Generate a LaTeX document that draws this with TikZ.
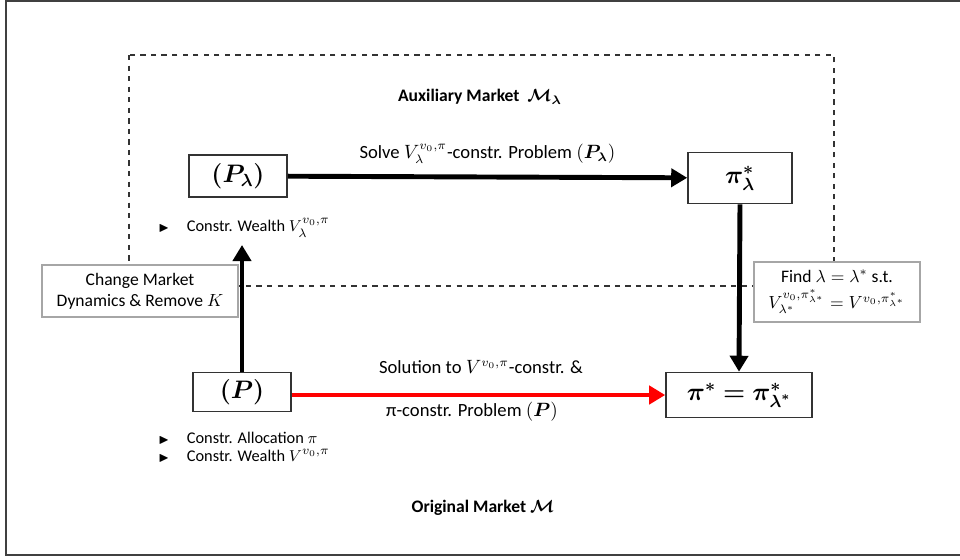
\documentclass[tikz,border=0pt]{standalone}
\usepackage{amsmath,amssymb,bm}
\usepackage{fontspec}
\setmainfont{Carlito}
\usetikzlibrary{arrows.meta}
\tikzset{
  probbox/.style={draw=black!80,line width=0.9pt,minimum width=#1,inner sep=0pt,font=\Large},
  notebox/.style={draw=black!35,fill=white,line width=0.8pt,inner sep=0pt,align=center,font=\normalsize},
  bigarrow/.style={line width=2.8pt,-{Triangle[length=0.32cm,width=0.36cm]}},
  bullet/.style={anchor=west,font=\fontsize{9.3}{11}\selectfont,inner sep=0pt},
  arrowlabel/.style={font=\fontsize{10.6}{12.5}\selectfont},
}
\newcommand{\tri}{{\scriptsize$\blacktriangleright$}\hspace{10pt}}
\begin{document}
\begin{tikzpicture}[x=0.02cm,y=-0.02cm]
  \useasboundingbox (0,0) rectangle (960,559);
  % outer frame
  \draw[black!75,line width=1.2pt] (965,1) -- (6,1) -- (6,555) -- (965,555);
  % auxiliary market region
  \draw[black!80,dashed,line width=0.6pt] (129,55) rectangle (834,286);
  \node[font=\bfseries] (aux) at (480,97) {Auxiliary Market \ $\bm{\mathcal{M}_\lambda}$};
  \node[font=\bfseries] (orig) at (483,508) {Original Market $\bm{\mathcal{M}}$};
  % problems
  \node[probbox=1.96cm,minimum height=0.84cm] (Pl) at (238,176) {$\bm{(P_\lambda)}$};
  \node[probbox=2.08cm,minimum height=1.02cm] (pil) at (740,178) {$\bm{\pi^*_\lambda}$};
  \node[probbox=1.96cm,minimum height=0.78cm] (P) at (242,392) {$\bm{(P)}$};
  \node[probbox=2.92cm,minimum height=0.90cm] (pis) at (739,395) {$\bm{\pi^* = \pi^*_{\lambda^*}}$};
  % side notes
  \node[notebox,minimum width=3.92cm,minimum height=1.04cm] (change) at (140,291)
    {Change Market\\ Dynamics \& Remove $K$};
  \node[notebox,minimum width=3.32cm,minimum height=1.2cm] (find) at (837,292)
    {Find $\lambda = \lambda^*$ s.t.\\[3pt] $V_{\lambda^*}^{v_0,\pi^*_{\lambda^*}} = V^{v_0,\pi^*_{\lambda^*}}$};
  % bullets
  \node[bullet] (b1) at (158,228) {\tri Constr. Wealth $V_\lambda^{v_0,\pi}$};
  \node[bullet] (b2) at (158,438) {\tri Constr. Allocation $\pi$};
  \node[bullet] (b3) at (158,456) {\tri Constr. Wealth $V^{v_0,\pi}$};
  % connectors
  \coordinate (up) at (242,245);
  \draw[bigarrow] (Pl) -- (pil)
    node[midway,above=3pt,arrowlabel] (solve) {Solve $V_\lambda^{v_0,\pi}$-constr. Problem $(\bm{P_\lambda})$};
  \draw[bigarrow] (P.north) -- (up);
  \draw[bigarrow] (pil.south) -- (pis.north);
  \draw[bigarrow,red,line width=2.6pt] (P.east |- pis.west) -- (pis.west);
  \node[arrowlabel] (sol1) at (481,367) {Solution to $V^{v_0,\pi}$-constr. \&};
  \node[arrowlabel] (sol2) at (472,412) {π-constr. Problem $(\bm{P})$};
\end{tikzpicture}
\end{document}
